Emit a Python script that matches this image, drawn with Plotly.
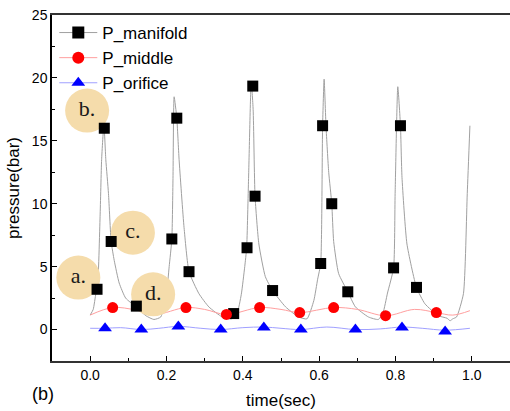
import plotly.graph_objects as go

# ---- data ----
manifold_line_t = [0.000, 0.008, 0.015, 0.019, 0.026, 0.030, 0.036, 0.041, 0.048, 0.055, 0.063, 0.076,
                   0.093, 0.120, 0.146, 0.167, 0.185, 0.200, 0.207, 0.214, 0.217, 0.220, 0.227, 0.233,
                   0.246, 0.259, 0.285, 0.311, 0.346, 0.370, 0.385, 0.396, 0.405, 0.410, 0.415, 0.422,
                   0.427, 0.432, 0.442, 0.459, 0.478, 0.512, 0.546, 0.568, 0.586, 0.596, 0.604, 0.609,
                   0.613, 0.618, 0.625, 0.633, 0.638, 0.651, 0.675, 0.695, 0.729, 0.755, 0.767, 0.779,
                   0.795, 0.799, 0.806, 0.813, 0.817, 0.830, 0.855, 0.877, 0.912, 0.935, 0.943, 0.950,
                   0.960, 0.978, 0.988, 0.995]
manifold_line_p = [1.15, 1.6, 2.85, 3.2, 9.0, 13.5, 16.3, 13.5, 10.8, 7.0, 5.5, 3.7,
                   2.5, 1.8, 1.1, 0.8, 1.0, 2.85, 5.0, 7.2, 12.0, 18.5, 16.8, 13.5,
                   8.1, 4.6, 2.85, 1.8, 1.0, 0.85, 1.3, 2.8, 5.0, 6.5, 12.0, 19.7,
                   17.5, 10.6, 6.8, 4.2, 3.1, 1.8, 1.0, 0.85, 2.3, 4.0, 5.25, 16.2,
                   19.9, 16.1, 12.5, 10.0, 7.0, 4.45, 3.0, 1.8, 1.0, 0.8, 1.3, 2.9,
                   4.9, 10.8, 19.3, 16.2, 12.1, 6.8, 3.35, 2.05, 1.1, 0.9, 0.7, 0.85,
                   1.0, 2.85, 10.8, 16.2]
manifold_mark_t = [0.018, 0.037, 0.055, 0.121, 0.214, 0.227, 0.259, 0.376, 0.411, 0.426, 0.432,
                   0.478, 0.604, 0.609, 0.633, 0.675, 0.795, 0.813, 0.855]
manifold_mark_p = [3.2, 16.0, 7.0, 1.86, 7.2, 16.8, 4.6, 1.27, 6.5, 19.35, 10.6,
                   3.1, 5.25, 16.2, 10.0, 3.0, 4.9, 16.2, 3.35]

middle_line_t = [0.000, 0.059, 0.120, 0.170, 0.251, 0.300, 0.357, 0.444, 0.500, 0.549, 0.638,
                 0.700, 0.774, 0.850, 0.907, 0.950, 0.995]
middle_line_p = [1.15, 1.75, 1.55, 1.2, 1.75, 1.6, 1.2, 1.75, 1.6, 1.35, 1.75,
                 1.6, 1.1, 1.6, 1.35, 1.15, 1.5]
middle_mark_t = [0.059, 0.251, 0.357, 0.444, 0.549, 0.638, 0.774, 0.907]
middle_mark_p = [1.75, 1.75, 1.2, 1.75, 1.35, 1.75, 1.1, 1.35]

orifice_line_t = [0.000, 0.039, 0.080, 0.134, 0.180, 0.231, 0.290, 0.342, 0.400, 0.455, 0.500,
                  0.552, 0.620, 0.695, 0.760, 0.817, 0.870, 0.930, 0.995]
orifice_line_p = [0.1, 0.1, 0.15, 0.0, 0.1, 0.25, 0.1, 0.0, 0.15, 0.2, 0.1,
                  0.0, 0.2, 0.0, 0.05, 0.2, 0.1, -0.05, 0.1]
orifice_mark_t = [0.039, 0.134, 0.231, 0.342, 0.455, 0.552, 0.695, 0.817, 0.930]
orifice_mark_p = [0.1, 0.0, 0.25, 0.0, 0.17, 0.0, 0.0, 0.17, -0.15]

series_names = ["P_manifold", "P_middle", "P_orifice"]
bubble_labels = ["a.", "b.", "c.", "d."]
bubble_t = [-0.031, -0.008, 0.112, 0.165]
bubble_p = [4.13, 17.4, 7.7, 2.8]

x_ticks = [0.0, 0.2, 0.4, 0.6, 0.8, 1.0]
y_ticks = [0, 5, 10, 15, 20, 25]

# ---- styles ----
line_cols = ["#a0a0a0", "#ff9f9f", "#a0a0ff"]
mark_cols = ["black", "red", "blue"]
symbols = ["square", "circle", "triangle-up"]
smooth = [0.5, 1.0, 1.0]

fig = go.Figure()
lines = [(manifold_line_t, manifold_line_p), (middle_line_t, middle_line_p), (orifice_line_t, orifice_line_p)]
marks = [(manifold_mark_t, manifold_mark_p), (middle_mark_t, middle_mark_p), (orifice_mark_t, orifice_mark_p)]

for i, (t, p) in enumerate(lines):
    fig.add_trace(go.Scatter(x=t, y=p, mode="lines", showlegend=False,
                             line=dict(color=line_cols[i], width=1, shape="spline", smoothing=smooth[i]),
                             hoverinfo="skip"))

# bubbles between lines and markers
fig.add_trace(go.Scatter(x=bubble_t, y=bubble_p, mode="markers+text", showlegend=False,
                         text=bubble_labels, textposition="middle center",
                         textfont=dict(family="Liberation Serif", size=22, color="#1a1a1a"),
                         marker=dict(size=44, color="#f5dcab", line=dict(width=0))))

for i, (t, p) in enumerate(marks):
    fig.add_trace(go.Scatter(x=t, y=p, mode="markers", showlegend=False,
                             marker=dict(symbol=symbols[i], color=mark_cols[i], size=11 if i != 2 else 12,
                                         line=dict(width=0))))

# legend entries
for i in range(3):
    fig.add_trace(go.Scatter(x=[None], y=[None], mode="lines+markers", name=series_names[i],
                             line=dict(color=line_cols[i], width=1),
                             marker=dict(symbol=symbols[i], color=mark_cols[i], size=12,
                                         line=dict(width=0))))

axis_font = dict(family="Liberation Sans", size=14, color="black")
fig.update_layout(
    width=510, height=411,
    margin=dict(l=52, r=0, t=15, b=50),
    plot_bgcolor="white", paper_bgcolor="white",
    font=dict(family="Liberation Sans", color="black"),
    xaxis=dict(range=[-0.1, 1.1], tickvals=x_ticks, ticktext=[f"{v:.1f}" for v in x_ticks],
               ticks="inside", ticklen=5, tickwidth=1, tickcolor="black",
               minor=dict(ticks="inside", ticklen=3, dtick=0.1, tick0=0, tickcolor="black"),
               showline=True, linecolor="#333", linewidth=1.5, mirror=True,
               showgrid=False, zeroline=False, tickfont=axis_font,
               title=dict(text="time(sec)", font=dict(family="Liberation Sans", size=17), standoff=13)),
    yaxis=dict(range=[-2.5, 25], tickvals=y_ticks, ticks="inside", ticklen=5, tickwidth=1, tickcolor="black",
               minor=dict(ticks="inside", ticklen=3, dtick=2.5, tick0=0, tickcolor="black"),
               showline=True, linecolor="black", linewidth=1.5,
               showgrid=False, zeroline=False, tickfont=axis_font,
               title=dict(text="pressure(bar)", font=dict(family="Liberation Sans", size=17), standoff=8)),
    legend=dict(x=0.005, y=1.0, xanchor="left", yanchor="top", bgcolor="rgba(0,0,0,0)",
                font=dict(family="Liberation Sans", size=17), itemwidth=38,
                tracegroupgap=0),
    annotations=[dict(text="(b)", xref="paper", yref="paper", x=0.008, y=-0.095,
                      xanchor="right", yanchor="middle", showarrow=False,
                      font=dict(family="Liberation Sans", size=18, color="black"))],
)

fig.write_html("out.html")
